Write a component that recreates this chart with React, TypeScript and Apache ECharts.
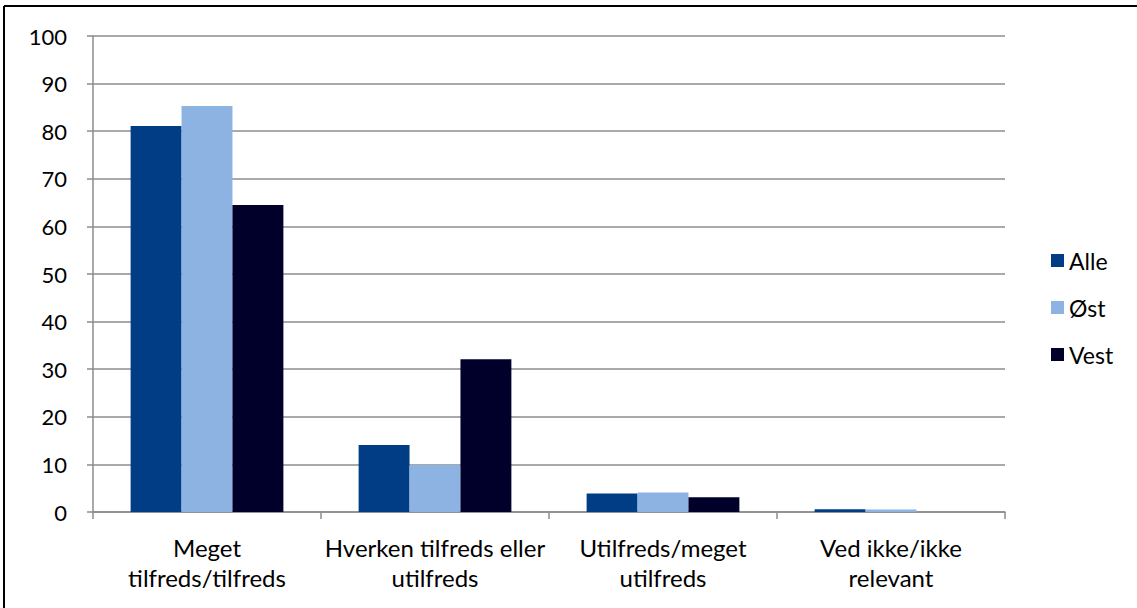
import React, { useEffect, useRef } from "react";
import * as echarts from "echarts";

const categories = [
  "Meget\ntilfreds/tilfreds",
  "Hverken tilfreds eller\nutilfreds",
  "Utilfreds/meget\nutilfreds",
  "Ved ikke/ikke\nrelevant",
];
const seriesNames = ["Alle", "Øst", "Vest"];
const alle = [81.1, 14.1, 3.9, 0.6];
const ost = [85.3, 9.9, 4.1, 0.5];
const vest = [64.5, 32.1, 3.1, 0];
const colors = ["#003D85", "#8DB3E2", "#00002B"];

export default function App() {
  const ref = useRef<HTMLDivElement>(null);
  useEffect(() => {
    const chart = echarts.init(ref.current!, null, { renderer: "svg" });
    const font = "Lato, 'Open Sans', sans-serif";
    const data = [alle, ost, vest];
    chart.setOption({
      animation: false,
      backgroundColor: "#ffffff",
      textStyle: { fontFamily: font },
      grid: { left: 93, right: 132, top: 36, bottom: 96 },
      legend: {
        orient: "vertical",
        left: 1046,
        top: 244,
        itemWidth: 13,
        itemHeight: 13,
        itemGap: 24,
        icon: "rect",
        textStyle: { fontSize: 23, color: "#000", fontFamily: font },
        data: seriesNames,
      },
      xAxis: {
        type: "category",
        data: categories,
        axisLine: { lineStyle: { color: "#8c8c8c", width: 1.5 } },
        axisTick: { show: true, length: 7, lineStyle: { color: "#8c8c8c", width: 1.5 } },
        axisLabel: {
          fontSize: 24,
          color: "#000",
          lineHeight: 30,
          margin: 20,
          fontFamily: font,
          interval: 0,
        },
      },
      yAxis: {
        type: "value",
        min: 0,
        max: 100,
        interval: 10,
        axisLine: { show: true, lineStyle: { color: "#8c8c8c", width: 1.5 } },
        axisTick: { show: true, length: 6, lineStyle: { color: "#8c8c8c", width: 1.5 } },
        splitLine: { lineStyle: { color: "#8c8c8c", width: 1.5 } },
        axisLabel: { fontSize: 22, color: "#000", margin: 26, fontFamily: font },
      },
      series: seriesNames.map((name, i) => ({
        name,
        type: "bar",
        data: data[i],
        barGap: "0%",
        barCategoryGap: "33%",
        itemStyle: { color: colors[i] },
      })),
      graphic: [
        {
          type: "line",
          shape: { x1: 4, y1: 6, x2: 1137, y2: 6 },
          style: { stroke: "#000", lineWidth: 2 },
        },
        {
          type: "line",
          shape: { x1: 4, y1: 6, x2: 4, y2: 608 },
          style: { stroke: "#000", lineWidth: 2 },
        },
      ],
    });
    return () => chart.dispose();
  }, []);
  return (
    <div
      ref={ref}
      style={{ position: "fixed", left: 0, top: 0, width: 1137, height: 608 }}
    />
  );
}
